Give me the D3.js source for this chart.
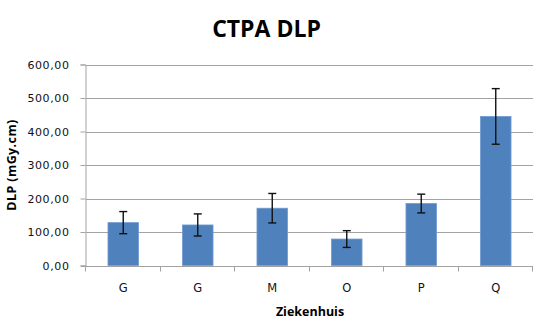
<!DOCTYPE html>
<html>
<head>
<meta charset="utf-8">
<script src="https://cdn.jsdelivr.net/npm/d3@7"></script>
<style>
  html, body { margin: 0; padding: 0; background: #fff; }
  svg { display: block; }
</style>
</head>
<body>
<svg id="chart" width="550" height="334"></svg>
<script>
const categories = ["G", "G", "M", "O", "P", "Q"];
const values = [128, 121, 171, 79, 185, 445];
const errors = [33, 33, 44, 25, 28, 83];
const yTicks = [0, 100, 200, 300, 400, 500, 600];

(function () {
const svg = d3.select("#chart");
const mLeft = 86, mRight = 533, mTop = 64.5, mBottom = 265.5;
const gridColor = "#a3a3a3";

const x = d3.scaleBand().domain(d3.range(categories.length)).range([mLeft, mRight]).paddingInner(0).paddingOuter(0);
const y = d3.scaleLinear().domain([0, 600]).range([mBottom, mTop]);

const fmt = v => d3.format(".2f")(v).replace(".", ",");

// gridlines
svg.append("g").selectAll("line").data(yTicks.filter(d => d > 0)).join("line")
  .attr("x1", mLeft).attr("x2", mRight)
  .attr("y1", d => Math.round(y(d)) + 0.5).attr("y2", d => Math.round(y(d)) + 0.5)
  .attr("stroke", gridColor).attr("stroke-width", 1);

// y axis
const yAxis = svg.append("g").attr("transform", `translate(${mLeft - 0.5},0)`)
  .call(d3.axisLeft(y).tickValues(yTicks).tickSize(5).tickPadding(11).tickFormat(fmt));
yAxis.select(".domain").attr("stroke", gridColor);
yAxis.selectAll(".tick line").attr("stroke", gridColor);
yAxis.selectAll(".tick text")
  .attr("font-family", "'DejaVu Sans', Verdana, sans-serif")
  .attr("font-size", "11px").attr("fill", "#111")
  .style("letter-spacing", "0.6px");

// bars
const barW = x.bandwidth() * 0.41;
svg.append("g").selectAll("rect").data(values).join("rect")
  .attr("x", (d, i) => x(i) + (x.bandwidth() - barW) / 2)
  .attr("y", d => y(d))
  .attr("width", barW)
  .attr("height", d => y(0) - y(d))
  .attr("fill", "#4f81bd")
  .attr("stroke", "#6f9bd1").attr("stroke-width", 0.8);

// x axis
const xAxis = svg.append("g").attr("transform", `translate(0,${Math.round(mBottom) + 0.5})`)
  .call(d3.axisBottom(x).tickSize(0).tickPadding(17).tickFormat(i => categories[i]));
xAxis.select(".domain").attr("stroke", gridColor).attr("d", `M${mLeft - 5},0H${mRight}`);
xAxis.selectAll(".tick text")
  .attr("font-family", "'DejaVu Sans', Verdana, sans-serif")
  .attr("font-size", "11.5px").attr("fill", "#111");
const bounds = d3.range(categories.length + 1).map(i => i < categories.length ? x(i) : mRight);
xAxis.append("g").selectAll("line").data(bounds).join("line")
  .attr("x1", d => Math.round(d) - 0.5).attr("x2", d => Math.round(d) - 0.5)
  .attr("y1", 0).attr("y2", 5).attr("stroke", gridColor);

// error bars
const capW = 8;
const eg = svg.append("g").attr("stroke", "#111").attr("stroke-width", 1.4).attr("fill", "none");
values.forEach((v, i) => {
  const cx = x(i) + x.bandwidth() / 2;
  const yt = y(v + errors[i]), yb = y(v - errors[i]);
  eg.append("line").attr("x1", cx).attr("x2", cx).attr("y1", yt).attr("y2", yb);
  eg.append("line").attr("x1", cx - capW / 2).attr("x2", cx + capW / 2).attr("y1", yt).attr("y2", yt);
  eg.append("line").attr("x1", cx - capW / 2).attr("x2", cx + capW / 2).attr("y1", yb).attr("y2", yb);
});

// title
svg.append("text").attr("x", 266.5).attr("y", 37)
  .attr("text-anchor", "middle")
  .attr("font-family", "'Open Sans', sans-serif").attr("font-weight", "bold")
  .attr("font-size", "23px").attr("fill", "#000")
  .text("CTPA DLP");

// x axis title
svg.append("text").attr("x", 310).attr("y", 316)
  .attr("text-anchor", "middle")
  .attr("font-family", "'Open Sans', sans-serif").attr("font-weight", "bold")
  .attr("font-size", "12.5px").attr("fill", "#000")
  .text("Ziekenhuis");

// y axis title
svg.append("text")
  .attr("transform", "translate(16,165) rotate(-90)")
  .attr("text-anchor", "middle")
  .attr("font-family", "'Open Sans', sans-serif").attr("font-weight", "bold")
  .attr("font-size", "12.5px").attr("fill", "#000")
  .style("letter-spacing", "0.4px")
  .text("DLP (mGy.cm)");
})();
</script>
</body>
</html>
